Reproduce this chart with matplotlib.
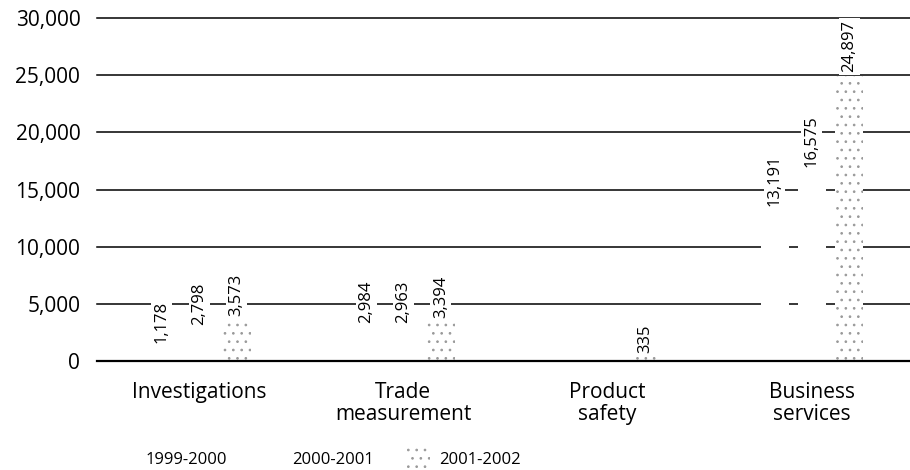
import numpy as np
import matplotlib
matplotlib.use("Agg")
import matplotlib.pyplot as plt

plt.rcParams['font.family'] = ['Open Sans', 'DejaVu Sans']
plt.rcParams['hatch.linewidth'] = 0.7

categories = ['Investigations', 'Trade\nmeasurement', 'Product\nsafety', 'Business\nservices']
years = ['1999-2000', '2000-2001', '2001-2002']
# Product safety has no figures before 2001-2002
v_1999 = [1178, 2984, np.nan, 13191]
v_2000 = [2798, 2963, np.nan, 16575]
v_2001 = [3573, 3394, 335, 24897]
yticks = [0, 5000, 10000, 15000, 20000, 25000, 30000]

fig = plt.figure(figsize=(9.1, 4.7), dpi=100)
ax = fig.add_axes([0.1066, 0.2319, 0.8934, 0.7298])

x = np.arange(len(categories))
step = 0.183
width = 0.137

# horizontal rules sit behind the (white) bars, the baseline in front
for t in yticks:
    ax.axhline(t, color='black', lw=1.6 if t == 0 else 1.1,
               zorder=3 if t == 0 else 0, clip_on=False)

styles = [
    dict(color='white', linewidth=0),
    dict(color='white', linewidth=0),
    dict(facecolor='white', edgecolor='#999999', linewidth=0, hatch='..'),
]
series = [v_1999, v_2000, v_2001]
for i, (vals, st, lab) in enumerate(zip(series, styles, years)):
    xs = x + (i - 1) * step
    ax.bar(xs, vals, width, label=lab, zorder=2, **st)
    for xi, v in zip(xs, vals):
        if np.isnan(v):
            continue
        ax.annotate(f'{v:,.0f}', (xi, v), xytext=(0, 3), textcoords='offset points',
                    rotation=90, ha='center', va='bottom', fontsize=12, zorder=4,
                    bbox=dict(boxstyle='square,pad=0.15', fc='white', ec='none'))

ax.set_xlim(-0.5, 3.48)
ax.set_ylim(0, 30000)
ax.set_yticks(yticks)
ax.set_yticklabels([f'{t:,}' for t in yticks], fontsize=15)
ax.set_xticks(x)
ax.set_xticklabels(categories, fontsize=15, linespacing=1.1)
ax.tick_params(axis='y', length=0, pad=12)
ax.tick_params(axis='x', length=0, pad=15)
for s in ax.spines.values():
    s.set_visible(False)

fig.legend(loc='center left', bbox_to_anchor=(0.125, 0.0255), ncol=3, frameon=False,
           fontsize=12, handlelength=1.4, handleheight=1.4, handletextpad=0.5,
           columnspacing=2.0, borderpad=0, borderaxespad=0)

fig.savefig('out.png', dpi=100)
